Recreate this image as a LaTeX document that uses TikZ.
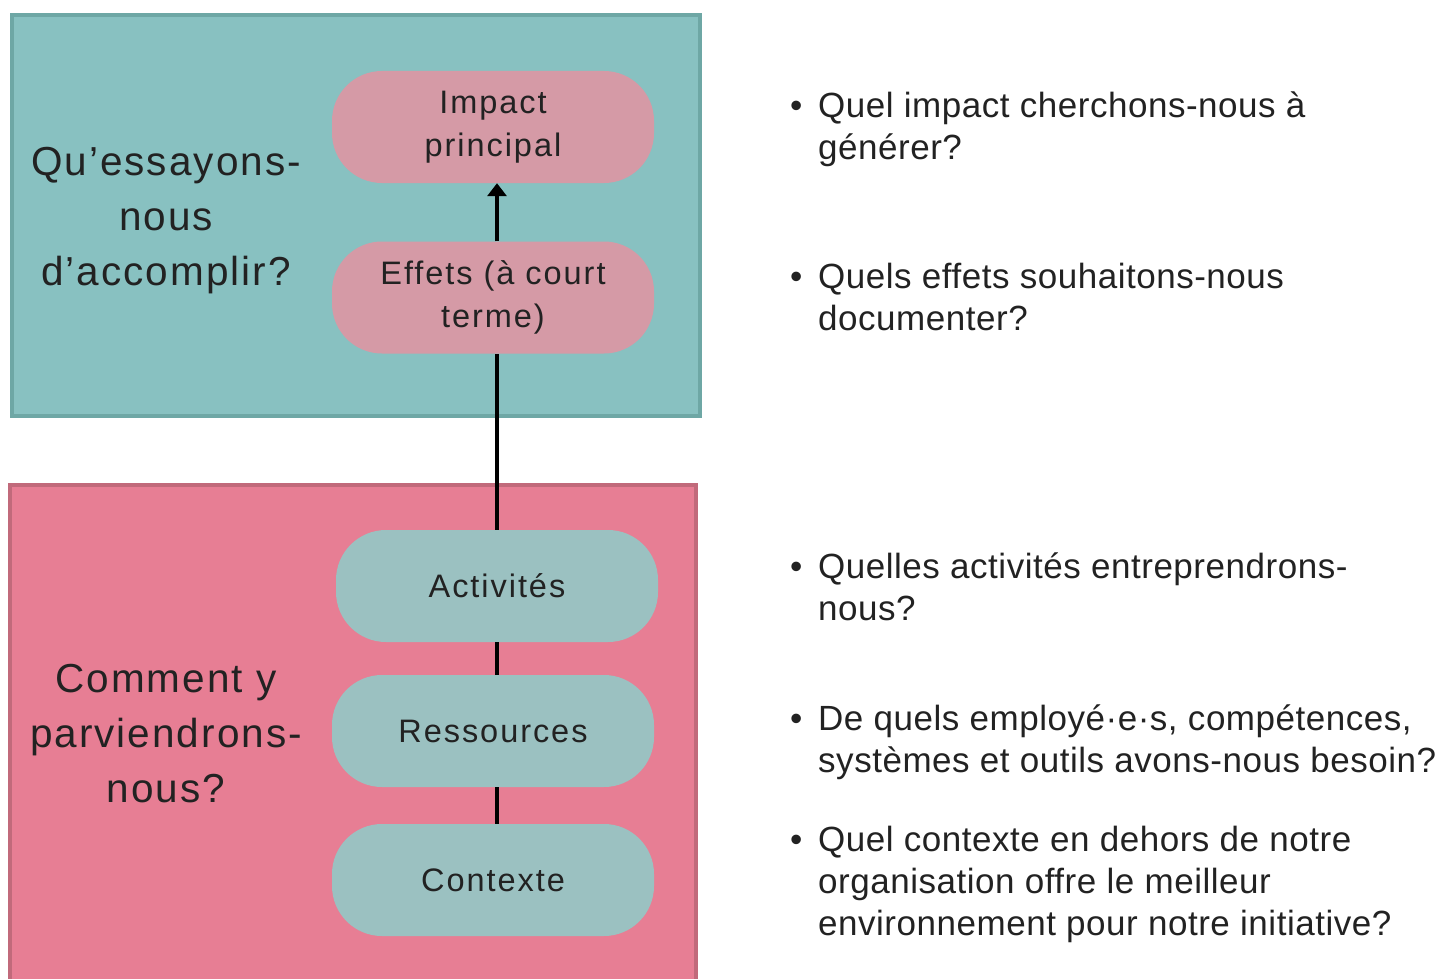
\documentclass[tikz,border=0pt]{standalone}
\usepackage{fontspec}
\setmainfont{Liberation Sans}
\newfontfamily\labfont{Liberation Sans}[LetterSpace=5]
\newfontfamily\pillfont{Liberation Sans}[LetterSpace=6]
\newfontfamily\itemfont{Liberation Sans}[LetterSpace=1.5]
\usetikzlibrary{arrows.meta}
\definecolor{topfill}{HTML}{88C1C1}
\definecolor{topedge}{HTML}{6EA7A5}
\definecolor{botfill}{HTML}{E77E94}
\definecolor{botedge}{HTML}{C16A7B}
\definecolor{pinkpill}{HTML}{D59AA6}
\definecolor{tealpill}{HTML}{9BC1C1}
\definecolor{txt}{HTML}{222222}
\begin{document}
\begin{tikzpicture}[x=1pt,y=-1pt,
  panel/.style={line width=4.5pt},
  pill/.style={rounded corners=50pt, minimum width=322pt, minimum height=112pt,
    align=center, inner sep=0pt, text=txt,
    font=\pillfont\fontsize{32.5}{43}\selectfont},
  sidelabel/.style={align=center, inner sep=0pt, anchor=base, text=txt,
    font=\labfont\fontsize{40.5}{55}\selectfont},
  item/.style={align=left, inner sep=0pt, anchor=base west, text=txt,
    font=\itemfont\fontsize{35}{42}\selectfont},
  link/.style={line width=4pt, draw=black},
]
\useasboundingbox (0,0) rectangle (1440,979);
\begin{scope}
\clip (0,0) rectangle (1440,979);
\draw[panel, draw=topedge, fill=topfill] (12,15) rectangle (700,416);
\draw[panel, draw=botedge, fill=botfill] (10,485) rectangle (696,1000);
\end{scope}

\node[pill, fill=pinkpill] (impact) at (493,127) {Impact\\principal};
\node[pill, fill=pinkpill] (effets) at (493,297.5) {Effets (à court\\terme)};
\node[pill, fill=tealpill] (activ) at (497,586) {Activités};
\node[pill, fill=tealpill] (ress) at (493,731) {Ressources};
\node[pill, fill=tealpill] (ctx) at (493,880) {Contexte};

\draw[link] (activ.north) -- (activ.north |- effets.south);
\draw[link, -{Triangle[width=19pt,length=13pt]}] (activ.north |- effets.north) -- (activ.north |- impact.south);
\draw[link] (activ.south) -- (activ.south |- ress.north);
\draw[link] (activ.south |- ress.south) -- (activ.south |- ctx.north);

\node[sidelabel] (q1) at (166,285) {Qu’essayons-\\nous\\d’accomplir?};
\node[sidelabel] (q2) at (166,802) {Comment y\\parviendrons-\\nous?};

\node[item] (i1) at (790,160) {\makebox[28pt][l]{\textbullet}Quel impact cherchons-nous à\\\hspace*{28pt}générer?};
\node[item] (i2) at (790,330) {\makebox[28pt][l]{\textbullet}Quels effets souhaitons-nous\\\hspace*{28pt}documenter?};
\node[item] (i3) at (790,620) {\makebox[28pt][l]{\textbullet}Quelles activités entreprendrons-\\\hspace*{28pt}nous?};
\node[item] (i4) at (790,772) {\makebox[28pt][l]{\textbullet}De quels employé·e·s, compétences,\\\hspace*{28pt}systèmes et outils avons-nous besoin?};
\node[item] (i5) at (790,935) {\makebox[28pt][l]{\textbullet}Quel contexte en dehors de notre\\\hspace*{28pt}organisation offre le meilleur\\\hspace*{28pt}environnement pour notre initiative?};
\end{tikzpicture}
\end{document}
